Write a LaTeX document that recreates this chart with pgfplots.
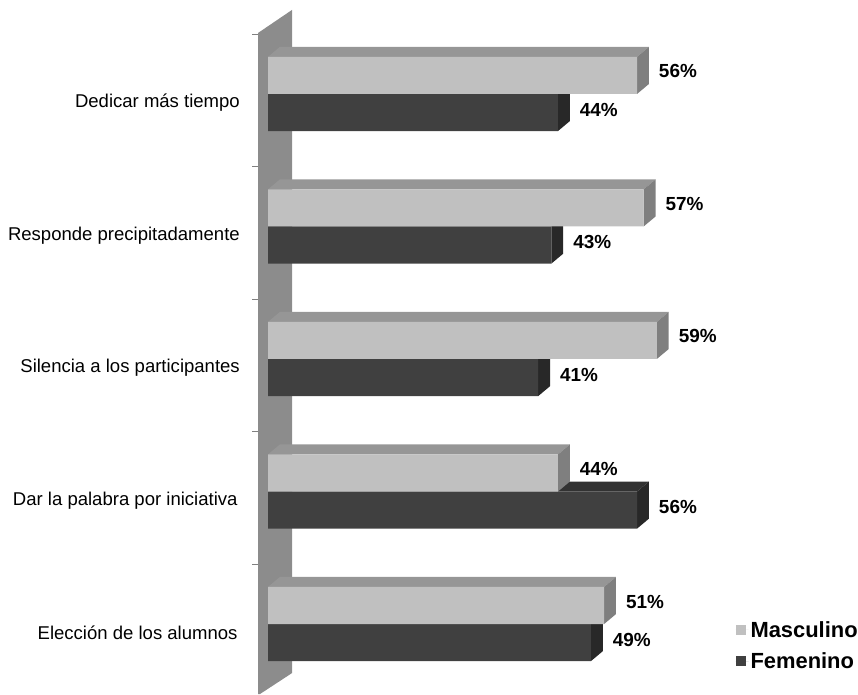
\documentclass[border=0pt]{standalone}
\usepackage{pgfplots}
\pgfplotsset{compat=1.18}
\usepackage{fontspec}
\setmainfont{Liberation Sans}

\definecolor{mascfront}{HTML}{C0C0C0}
\definecolor{masctop}{HTML}{969696}
\definecolor{mascside}{HTML}{7F7F7F}
\definecolor{femfront}{HTML}{404040}
\definecolor{femtop}{HTML}{323232}
\definecolor{femside}{HTML}{282828}
\definecolor{wall}{HTML}{8C8C8C}

\tikzset{
    pct/.style={anchor=west, inner sep=0pt, font=\bfseries\fontsize{19}{21}\selectfont},
    cat/.style={anchor=east, inner sep=0pt, font=\fontsize{18.6}{21}\selectfont},
}

\begin{document}
\begin{tikzpicture}
\begin{axis}[
    width=858bp, height=694bp, scale only axis,
    xmin=-40.67, xmax=89.53, ymin=-0.528, ymax=4.709,
    hide axis, clip=false,
    reverse legend,
    legend style={at={(rel axis cs:0.857,0.108)}, anchor=north west,
        draw=none, fill=none, inner sep=0pt, row sep=10bp,
        font=\bfseries\fontsize{22}{24}\selectfont, cells={anchor=west}},
    legend image code/.code={\path (0bp,0bp) -- (13bp,0bp);
        \fill[#1, draw=none] (0bp,-5bp) rectangle (10bp,5bp);},
]
% wall
\addplot[fill=wall, draw=none, forget plot] coordinates {(-1.517,4.460) (3.642,4.634) (3.642,-0.370) (-1.21,-0.528) (-1.517,-0.528)};
% small ticks on the wall
\addplot[draw=gray, forget plot] coordinates {(-2.43,4.453) (-1.517,4.453)};
\addplot[draw=gray, forget plot] coordinates {(-2.43,3.453) (-1.517,3.453)};
\addplot[draw=gray, forget plot] coordinates {(-2.43,2.453) (-1.517,2.453)};
\addplot[draw=gray, forget plot] coordinates {(-2.43,1.453) (-1.517,1.453)};
\addplot[draw=gray, forget plot] coordinates {(-2.43,0.453) (-1.517,0.453)};

% Femenino: top and side faces
\addplot[fill=femtop, draw=none, forget plot] coordinates {(0,4) (44,4) (45.8,4.075) (1.8,4.075)};
\addplot[fill=femside, draw=none, forget plot] coordinates {(44,3.72) (44,4) (45.8,4.075) (45.8,3.795)};
\addplot[fill=femtop, draw=none, forget plot] coordinates {(0,3) (43,3) (44.8,3.075) (1.8,3.075)};
\addplot[fill=femside, draw=none, forget plot] coordinates {(43,2.72) (43,3) (44.8,3.075) (44.8,2.795)};
\addplot[fill=femtop, draw=none, forget plot] coordinates {(0,2) (41,2) (42.8,2.075) (1.8,2.075)};
\addplot[fill=femside, draw=none, forget plot] coordinates {(41,1.72) (41,2) (42.8,2.075) (42.8,1.795)};
\addplot[fill=femtop, draw=none, forget plot] coordinates {(0,1) (56,1) (57.8,1.075) (1.8,1.075)};
\addplot[fill=femside, draw=none, forget plot] coordinates {(56,0.72) (56,1) (57.8,1.075) (57.8,0.795)};
\addplot[fill=femtop, draw=none, forget plot] coordinates {(0,0) (49,0) (50.8,0.075) (1.8,0.075)};
\addplot[fill=femside, draw=none, forget plot] coordinates {(49,-0.28) (49,0) (50.8,0.075) (50.8,-0.205)};
% Femenino: front faces
\addplot[xbar, bar width=0.28, bar shift=-0.14, fill=femfront, draw=none]
    coordinates {(44,4) (43,3) (41,2) (56,1) (49,0)};
\addlegendentry{Femenino}

% Masculino: top and side faces
\addplot[fill=masctop, draw=none, forget plot] coordinates {(0,4.28) (56,4.28) (57.8,4.355) (1.8,4.355)};
\addplot[fill=mascside, draw=none, forget plot] coordinates {(56,4) (56,4.28) (57.8,4.355) (57.8,4.075)};
\addplot[fill=masctop, draw=none, forget plot] coordinates {(0,3.28) (57,3.28) (58.8,3.355) (1.8,3.355)};
\addplot[fill=mascside, draw=none, forget plot] coordinates {(57,3) (57,3.28) (58.8,3.355) (58.8,3.075)};
\addplot[fill=masctop, draw=none, forget plot] coordinates {(0,2.28) (59,2.28) (60.8,2.355) (1.8,2.355)};
\addplot[fill=mascside, draw=none, forget plot] coordinates {(59,2) (59,2.28) (60.8,2.355) (60.8,2.075)};
\addplot[fill=masctop, draw=none, forget plot] coordinates {(0,1.28) (44,1.28) (45.8,1.355) (1.8,1.355)};
\addplot[fill=mascside, draw=none, forget plot] coordinates {(44,1) (44,1.28) (45.8,1.355) (45.8,1.075)};
\addplot[fill=masctop, draw=none, forget plot] coordinates {(0,0.28) (51,0.28) (52.8,0.355) (1.8,0.355)};
\addplot[fill=mascside, draw=none, forget plot] coordinates {(51,0) (51,0.28) (52.8,0.355) (52.8,0.075)};
% Masculino: front faces
\addplot[xbar, bar width=0.28, bar shift=0.14, fill=mascfront, draw=none]
    coordinates {(56,4) (57,3) (59,2) (44,1) (51,0)};
\addlegendentry{Masculino}

% value labels
\node[pct] at (axis cs:59.3,4.17) {56\%};
\node[pct] at (axis cs:60.3,3.17) {57\%};
\node[pct] at (axis cs:62.3,2.17) {59\%};
\node[pct] at (axis cs:47.3,1.17) {44\%};
\node[pct] at (axis cs:54.3,0.17) {51\%};
\node[pct] at (axis cs:47.3,3.88) {44\%};
\node[pct] at (axis cs:46.3,2.88) {43\%};
\node[pct] at (axis cs:44.3,1.88) {41\%};
\node[pct] at (axis cs:59.3,0.88) {56\%};
\node[pct] at (axis cs:52.3,-0.12) {49\%};

% category labels
\node[cat] at (axis cs:-4.25,3.932) {Dedicar más tiempo};
\node[cat] at (axis cs:-4.25,2.932) {Responde precipitadamente};
\node[cat] at (axis cs:-4.25,1.932) {Silencia a los participantes};
\node[cat] at (axis cs:-4.6,0.932) {Dar la palabra por iniciativa};
\node[cat] at (axis cs:-4.6,-0.068) {Elección de los alumnos};
\end{axis}
\pgfresetboundingbox
\path (current axis.south west) rectangle (current axis.north east);
\end{tikzpicture}
\end{document}
